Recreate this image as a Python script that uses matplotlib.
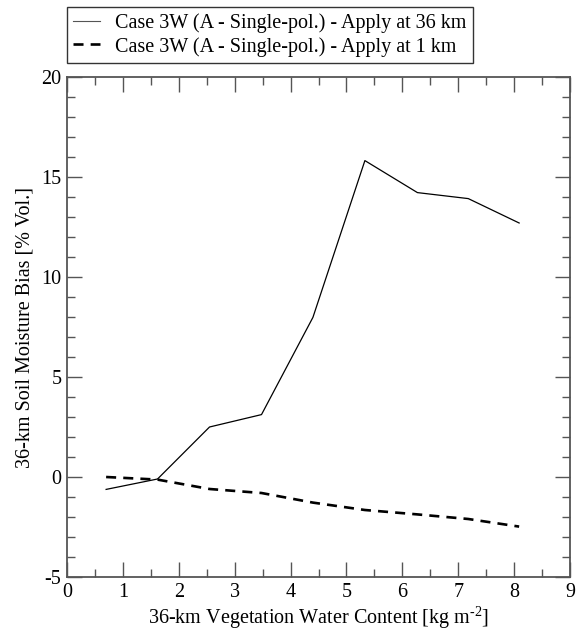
import matplotlib
matplotlib.use("Agg")
import matplotlib.pyplot as plt
from matplotlib.ticker import MultipleLocator

plt.rcParams['font.family'] = ['Liberation Serif', 'DejaVu Serif']
plt.rcParams['mathtext.fontset'] = 'custom'
plt.rcParams['mathtext.rm'] = 'Liberation Serif'
plt.rcParams['mathtext.it'] = 'Liberation Serif:italic'
plt.rcParams['mathtext.bf'] = 'Liberation Serif:bold'
plt.rcParams['axes.unicode_minus'] = False

vwc = [0.7, 1.62, 2.55, 3.48, 4.4, 5.33, 6.27, 7.18, 8.09]
bias_36km = [-0.62, -0.1, 2.5, 3.12, 7.98, 15.82, 14.22, 13.92, 12.7]
bias_1km = [0.0, -0.13, -0.6, -0.8, -1.28, -1.65, -1.87, -2.1, -2.48]

label_36 = "Case 3W (A - Single-pol.) - Apply at 36 km"
label_1 = "Case 3W (A - Single-pol.) - Apply at 1 km"

fig = plt.figure(figsize=(5.85, 6.37), dpi=100)
ax = fig.add_axes([67/585, 1-577/637, (570-67)/585, (577-77)/637])

l1, = ax.plot(vwc, bias_36km, color='black', lw=0.9, label=label_36)
l2, = ax.plot(vwc, bias_1km, color='black', lw=1.9, linestyle=(0, (3.8, 2.7)), label=label_1)

ax.set_xlim(0, 9)
ax.set_ylim(-5, 20)
ax.xaxis.set_major_locator(MultipleLocator(1))
ax.xaxis.set_minor_locator(MultipleLocator(0.5))
ax.yaxis.set_major_locator(MultipleLocator(5))
ax.yaxis.set_minor_locator(MultipleLocator(1))
ax.tick_params(which='both', direction='in', top=True, right=True, color='#555555', width=1.0, labelsize=14.5, pad=4)
ax.tick_params(which='major', length=11)
ax.tick_params(which='minor', length=6)
for s in ax.spines.values():
    s.set_color('#555555')
    s.set_linewidth(1.3)

ax.set_xlabel("36-km Vegetation Water Content [kg m$^{\\text{-2}}$]", fontsize=14.5, labelpad=2)
ax.set_ylabel("36-km Soil Moisture Bias [% Vol.]", fontsize=14.5, labelpad=5)

l1h, = ax.plot([], [], color='#555555', lw=0.8)
leg = fig.legend(handles=[l1h, l2], labels=[label_36, label_1], loc='upper left',
                 bbox_to_anchor=(67/585, 1-7/637),
                 fontsize=14.5, frameon=True, fancybox=False, handlelength=1.35,
                 handletextpad=0.75, borderpad=0.3, labelspacing=0.2, borderaxespad=0)
leg.get_frame().set_edgecolor('black')
leg.get_frame().set_linewidth(1.0)

fig.savefig("out.png", dpi=100)
